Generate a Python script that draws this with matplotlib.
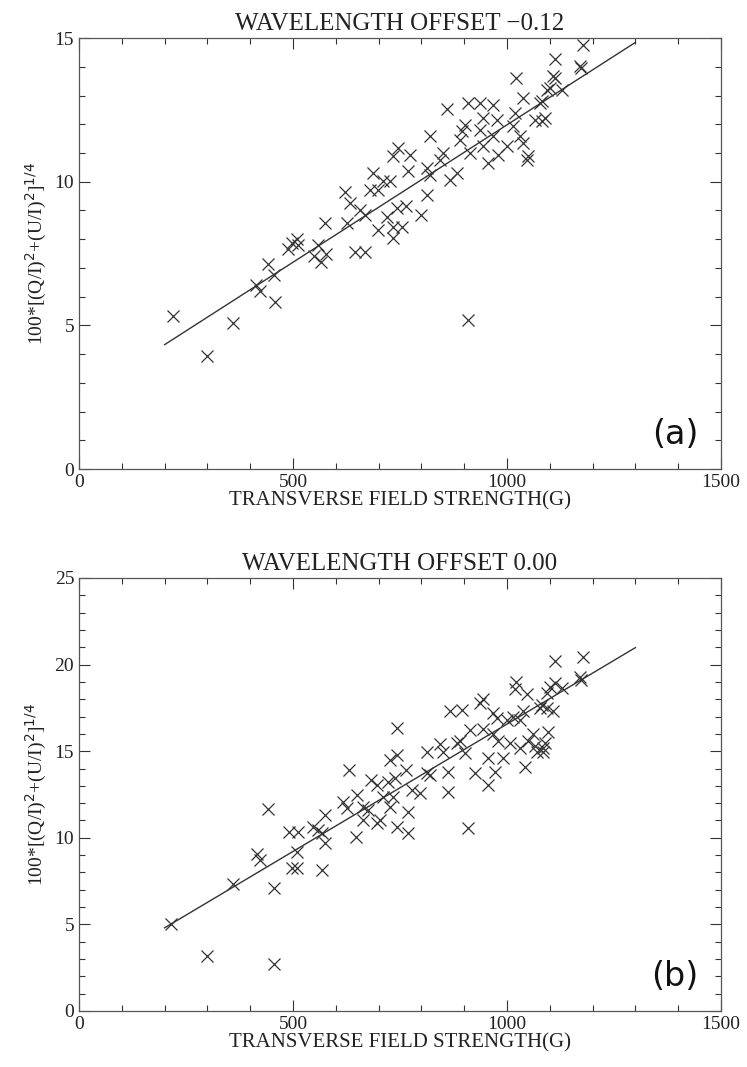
import numpy as np
import matplotlib.pyplot as plt
from matplotlib.ticker import MultipleLocator

# panel (a): wavelength offset -0.12
xa = [220, 298, 359, 413, 423, 441, 456, 458, 489, 497, 509, 512, 550, 559, 565, 576,
      575, 621, 625, 633, 645, 656, 668, 668, 680, 688, 699, 699, 711, 719, 727, 734,
      734, 734, 742, 746, 754, 765, 769, 773, 798, 812, 812, 820, 820, 843, 851, 859,
      867, 882, 890, 894, 902, 910, 913, 937, 937, 945, 945, 956, 968, 968, 976, 980,
      999, 1015, 1019, 1022, 1030, 1038, 1038, 1046, 1050, 1065, 1077, 1081, 1081, 1089,
      1093, 1100, 1108, 1112, 1112, 1128, 1170, 1172, 1178, 910]
ya = [5.33, 3.94, 5.10, 6.41, 6.21, 7.14, 6.76, 5.83, 7.66, 7.86, 8.02, 7.80, 7.43, 7.80, 7.20, 7.50,
      8.56, 9.66, 8.56, 9.26, 7.57, 9.02, 8.85, 7.57, 9.72, 10.30, 9.72, 8.33, 10.01, 8.79, 10.01, 8.44,
      8.04, 10.88, 9.08, 11.17, 8.44, 9.14, 10.36, 10.94, 8.85, 9.55, 10.48, 10.24, 11.58, 10.77, 11.00, 12.53,
      10.07, 10.30, 11.46, 11.75, 11.99, 12.74, 11.00, 12.74, 11.81, 12.22, 11.23, 10.65, 12.68, 11.58, 12.16, 10.94,
      11.23, 11.93, 12.39, 13.61, 11.58, 12.92, 11.35, 10.77, 10.88, 12.16, 12.74, 12.80, 12.10, 12.22,
      13.20, 13.27, 13.67, 14.27, 13.61, 13.20, 14.02, 13.95, 14.77, 5.19]

# panel (b): wavelength offset 0.00
xb = [216, 298, 359, 415, 423, 442, 456, 456, 490, 497, 509, 509, 512, 547, 559, 567,
      567, 575, 575, 617, 625, 631, 647, 649, 664, 664, 676, 683, 696, 696, 703, 711,
      723, 727, 727, 734, 738, 742, 742, 742, 765, 769, 769, 777, 797, 812, 812, 820,
      851, 863, 863, 902, 910, 925, 956, 956, 972, 991, 1042, 1069, 1085, 1085, 1081,
      1093, 1093, 1096, 1100, 1112, 1112, 1128, 1170, 1172, 1178,
      843, 867, 882, 890, 894, 913, 937, 945, 945, 968, 976, 980, 999, 1015, 1019, 1022,
      1030, 1038, 1046, 1050, 1065, 1077, 968, 1008, 1030, 1089, 1060, 1108]
yb = [5.02, 3.18, 7.33, 9.06, 8.72, 11.65, 2.71, 7.08, 10.35, 8.24, 8.24, 9.20, 10.35, 10.64, 10.45, 10.26,
      8.14, 11.32, 9.68, 12.08, 11.70, 13.91, 10.06, 12.47, 11.80, 11.03, 11.60, 13.34, 13.05, 10.84, 11.03, 12.37,
      13.24, 14.49, 11.80, 12.37, 13.43, 16.32, 14.78, 10.64, 13.91, 11.51, 10.26, 12.76, 12.57, 14.97, 13.72, 13.63,
      14.97, 13.82, 12.66, 14.88, 10.55, 13.72, 14.59, 13.05, 13.82, 14.59, 14.10, 14.97, 14.97, 15.17, 17.67,
      17.48, 18.34, 16.13, 18.72, 18.92, 20.20, 18.63, 19.30, 19.10, 20.46,
      15.4, 17.3, 15.5, 15.6, 17.4, 16.2, 17.8, 18.0, 16.3, 17.2, 16.9, 15.6, 16.8, 17.0, 18.6, 19.0,
      16.8, 17.3, 18.3, 15.6, 15.3, 17.5, 16.0, 15.5, 15.2, 15.5, 16.0, 17.3]

fit_x = [200, 1300]
fit_a = [4.33, 14.85]
fit_b = [4.80, 20.98]

plt.rcParams['font.family'] = ['Liberation Serif', 'DejaVu Serif']
ink = '#333333'

fig = plt.figure(figsize=(7.47, 10.67), dpi=100)
ax1 = fig.add_axes([0.1058, 0.5604, 0.8594, 0.4039])
ax2 = fig.add_axes([0.1058, 0.0525, 0.8594, 0.4058])

panels = [(ax1, xa, ya, fit_a, 15, 'WAVELENGTH OFFSET \u22120.12', '(a)'),
          (ax2, xb, yb, fit_b, 25, 'WAVELENGTH OFFSET 0.00', '(b)')]

for ax, x, y, fit, ymax, title, tag in panels:
    ax.plot(x, y, 'x', ms=9, mew=0.9, color=ink)
    ax.plot(fit_x, fit, '-', lw=1.0, color=ink)
    ax.set_xlim(0, 1500)
    ax.set_ylim(0, ymax)
    ax.xaxis.set_major_locator(MultipleLocator(500))
    ax.xaxis.set_minor_locator(MultipleLocator(100))
    ax.yaxis.set_major_locator(MultipleLocator(5))
    ax.yaxis.set_minor_locator(MultipleLocator(1))
    ax.tick_params(which='both', direction='in', top=True, right=True, color=ink, width=0.8,
                   labelsize=14, labelcolor='#222222')
    ax.tick_params(which='major', length=8)
    ax.tick_params(which='minor', length=4)
    for s in ax.spines.values():
        s.set_color('#555555')
        s.set_linewidth(0.9)
    ax.set_title(title, fontsize=18, color='#222222', pad=6)
    ax.set_xlabel('TRANSVERSE FIELD STRENGTH(G)', fontsize=15, color='#222222', labelpad=0)
    ax.set_ylabel(r'100*[(Q/I)$^2$+(U/I)$^2$]$^{1/4}$', fontsize=14, color='#222222', labelpad=4)
    ax.text(0.965, 0.08, tag, transform=ax.transAxes, ha='right', va='center',
            fontsize=24, family='DejaVu Sans', color='#111111')

fig.savefig('out.png', dpi=100)
